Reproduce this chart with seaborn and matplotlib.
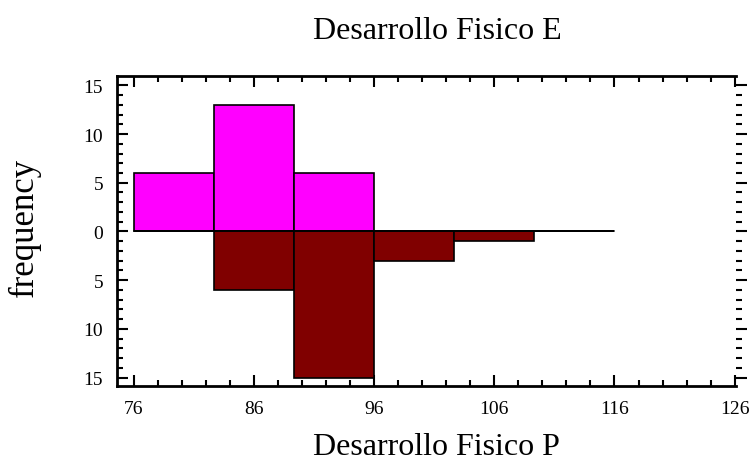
import numpy as np
import matplotlib
matplotlib.use('Agg')
import matplotlib.pyplot as plt
import seaborn as sns
from matplotlib.ticker import MultipleLocator, FuncFormatter

# bin edges and counts
bin_edges = [76, 82.667, 89.333, 96, 102.667, 109.333, 116]
counts_e = [6, 13, 6, 0, 0, 0]   # Desarrollo Fisico E (top)
counts_p = [0, 6, 15, 3, 1, 0]   # Desarrollo Fisico P (bottom)
x_ticks = [76, 86, 96, 106, 116, 126]

sns.set_style('white')
plt.rcParams['font.family'] = ['Liberation Serif', 'DejaVu Serif']
plt.rcParams['text.color'] = 'black'
plt.rcParams['axes.labelcolor'] = 'black'

edges = np.array(bin_edges)
centers = (edges[:-1] + edges[1:]) / 2

fig = plt.figure(figsize=(7.51, 4.64), dpi=100)
ax = fig.add_axes([0.1558, 0.166, 0.824, 0.668])

sns.histplot(x=list(centers), weights=list(counts_e), bins=list(bin_edges), color='#ff00ff', alpha=1,
             edgecolor='black', linewidth=1.2, ax=ax)
sns.histplot(x=list(centers), weights=[-c for c in counts_p], bins=list(bin_edges), color='#800000', alpha=1,
             edgecolor='black', linewidth=1.2, ax=ax)
ax.plot([edges[0], edges[-1]], [0, 0], color='black', lw=1.3)

ax.set_xlim(74.6, 126.1)
ax.set_ylim(-15.85, 15.95)
ax.set_xticks(x_ticks)
ax.xaxis.set_minor_locator(MultipleLocator(2))
ax.set_yticks([-15, -10, -5, 0, 5, 10, 15])
ax.yaxis.set_minor_locator(MultipleLocator(1))
ax.yaxis.set_major_formatter(FuncFormatter(lambda v, p: f'{abs(int(round(v)))}'))
ax.set_xlabel('')
ax.set_ylabel('')

for s in ['left', 'bottom', 'top']:
    ax.spines[s].set_linewidth(2)
    ax.spines[s].set_color('black')
ax.spines['right'].set_visible(False)

ax.tick_params(axis='both', which='both', direction='in', top=True, left=True,
               bottom=True, width=1.5, labelsize=14, colors='black')
ax.tick_params(axis='both', which='major', length=8)
ax.tick_params(axis='both', which='minor', length=4.5)
ax.tick_params(axis='y', which='both', right=True)
ax.tick_params(axis='x', which='major', pad=10)
ax.tick_params(axis='y', which='major', pad=10)
# right side ticks point outward
for t in ax.yaxis.get_major_ticks() + ax.yaxis.get_minor_ticks():
    t.tick2line.set_marker(matplotlib.lines.TICKRIGHT)

fig.text(0.033, 0.509, 'frequency', fontsize=25, rotation=90, ha='center', va='center')
fig.text(0.581, 0.004, 'Desarrollo Fisico P', fontsize=23, ha='center', va='bottom')
fig.text(0.583, 0.933, 'Desarrollo Fisico E', fontsize=23, ha='center', va='center')

fig.savefig('out.png', dpi=100)
